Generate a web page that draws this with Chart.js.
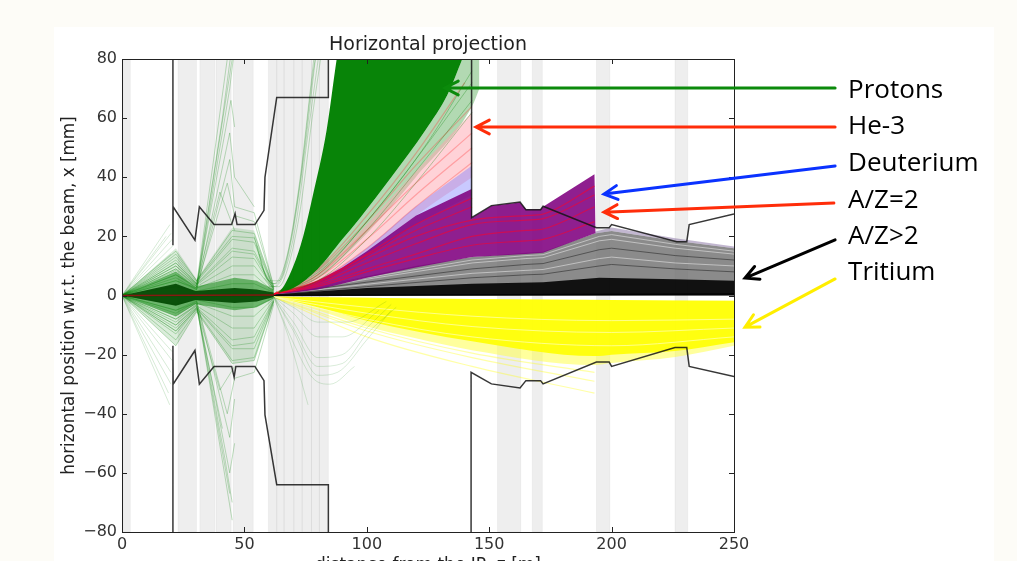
<!DOCTYPE html>
<html>
<head>
<meta charset="utf-8">
<script src="https://cdn.jsdelivr.net/npm/chart.js@4.4.1/dist/chart.umd.min.js"></script>
<style>
  html, body { margin: 0; padding: 0; background: #fdfcf7; }
  #wrap { width: 1017px; height: 561px; }
</style>
</head>
<body>
<div id="wrap"><canvas id="proj" width="1017" height="561"></canvas></div>
<script>
// axis ticks
const xTicks = [0, 50, 100, 150, 200, 250];
const yTicks = [-80, -60, -40, -20, 0, 20, 40, 60, 80];

// magnet / element regions along z [m]
const magnetBands = [[0.3, 3.4], [22.9, 30.4], [31.8, 37.9], [38.4, 44.6], [45.4, 53.6],
  [59.8, 63.2], [63.2, 66.2], [66.2, 70.2], [70.2, 73.6], [73.6, 77.4], [77.4, 80.6], [80.6, 84.3],
  [153.4, 162.9], [167.6, 171.7], [193.8, 199.3], [225.9, 231.1]];

// aperture outlines [z, x]
const apUpperLeft = [[20.8, 80], [20.8, 17], [20.9, 30], [29.8, 18.7], [31.6, 30], [37.6, 24], [44.8, 24],
  [46.2, 27.7], [47, 24], [54.3, 24], [58, 28.8], [58.4, 40], [63.2, 67], [84.3, 67], [84.3, 80]];
const apLowerLeft = [[20.8, -80], [20.8, -17], [20.9, -30], [29.8, -18.6], [31.6, -30], [37.6, -24], [44.8, -24],
  [45.8, -27.6], [46.5, -24], [54.3, -24], [58, -28.8], [58.4, -40.4], [63.2, -64], [84.3, -64], [84.3, -80]];
const apUpperRight = [[142.8, 80], [142.8, 26.3], [150.9, 30.4], [162.6, 31.6], [165, 29], [171, 29], [172, 30.2],
  [193.8, 22.9], [199, 22.9], [200, 24], [226.6, 18.2], [230.7, 18.2], [231.7, 24], [250, 27.6]];
const apLowerRight = [[142.6, -80], [142.6, -26], [150.9, -29.9], [162.6, -31.3], [165, -28.8], [171, -28.8], [172, -29.9],
  [193.8, -22.5], [199, -22.5], [200, -24], [225.9, -17.6], [230.7, -17.6], [231.7, -24], [250, -27.4]];

// A/Z>2 (grey / black)
const zeroLine = [[0, 0], [250, 0]];
const grayTop = [[0, 0], [62, 0.5], [80, 3], [100, 6.5], [120, 10], [143, 13], [165, 14.5], [172, 14.8],
  [193, 21], [200, 21.8], [226, 18.5], [250, 16]];
const grayCore = [[0, 0], [62, 0.3], [100, 2.5], [143, 4], [172, 4.5], [195, 6], [226, 5.5], [250, 5]];
const lavenderTop = [[193, 21.6], [200, 23], [226, 19.4], [250, 16.6]];
const grayStreaks = [
  [[62, 0.4], [100, 5.5], [143, 11], [165, 12.5], [172, 12.8], [195, 18.5], [200, 19], [226, 16], [250, 14]],
  [[62, 0.4], [100, 4.5], [143, 9], [165, 10.5], [172, 10.8], [195, 15.5], [200, 16], [226, 13.5], [250, 12]],
  [[62, 0.3], [100, 3.8], [143, 7.5], [165, 8.5], [172, 8.8], [195, 12.5], [200, 13], [226, 11], [250, 10]],
  [[62, 0.3], [100, 3], [143, 6], [165, 7], [172, 7.2], [195, 10], [200, 10.5], [226, 9], [250, 8]],
  [[62, 0.4], [100, 6], [143, 12], [165, 13.5], [172, 13.8], [195, 20], [200, 20.6], [226, 17.3], [250, 15]]
];

// tritium (yellow)
const yellowTop = [[62, -0.3], [100, -0.8], [143, -1.2], [200, -1.5], [250, -1.8]];
const yellowMid = [[62, -0.5], [80, -4], [100, -8.5], [143, -15.5], [193, -20.5], [200, -20], [226, -18.8], [250, -15.8]];
const yellowBottom = [[62, -0.5], [80, -5], [100, -10.5], [120, -14.5], [143, -18.5], [193, -23.5], [200, -22.8], [226, -20.8], [250, -17]];
const yellowFaint = [
  [[62, -0.5], [100, -12], [143, -21], [193, -29]],
  [[62, -0.5], [100, -14], [143, -24], [193, -33]],
  [[62, -0.5], [100, -11], [143, -19.5], [193, -26]]
];
const yellowLight = [
  [[62, -0.5], [100, -4], [143, -7], [200, -8.5], [250, -8]],
  [[62, -0.5], [100, -8], [143, -14], [200, -17], [250, -14]],
  [[62, -0.5], [100, -6], [143, -10.5], [200, -12.5], [250, -11]]
];

// He-3 (pink), deuterium (blue), A/Z=2 (purple / red)
const pinkLow = [[62, 0.5], [80, 4], [100, 14], [120, 27], [143, 40]];
const pinkHigh = [[62, 0.5], [80, 8], [100, 24], [120, 42], [143, 62]];
const pinkLines = [
  [[62, 0.5], [80, 7], [100, 22], [120, 38], [143, 55]],
  [[62, 0.5], [80, 6], [100, 19], [120, 34], [143, 50]],
  [[62, 0.5], [80, 8.5], [100, 25], [120, 44], [143, 64]],
  [[62, 0.5], [80, 5], [100, 16], [120, 30], [143, 45]],
  [[62, 0.5], [80, 9], [100, 27], [120, 48], [140, 72]]
];
const blueLow = [[62, 0.5], [80, 4], [100, 13], [120, 24], [143, 34]];
const blueHigh = [[62, 0.5], [80, 5], [100, 16], [120, 30], [143, 44]];
const purpleLow = [[62, 0.4], [70, 0.9], [80, 2], [90, 4], [100, 6], [120, 9.5], [143, 13], [165, 14], [172, 14.5], [193, 21], [193.5, 21]];
const purpleHigh = [[62, 0.5], [70, 1.8], [80, 5], [90, 9.5], [100, 15], [120, 27], [142.8, 36], [143, 26.3], [151, 30.4],
  [162.6, 31.5], [165, 29.2], [171, 29.2], [172, 30], [193, 41], [193.5, 21]];
const redLines = [
  [[62, 0.5], [80, 3.5], [100, 9], [120, 14], [143, 20], [165, 22], [172, 22.5], [193, 30]],
  [[62, 0.5], [80, 4], [100, 11], [120, 17.5], [143, 24], [165, 25.5], [172, 26], [193, 34]],
  [[62, 0.5], [80, 4.5], [100, 12.5], [120, 20], [143, 25.5], [165, 27], [172, 27.5], [193, 37]],
  [[62, 0.5], [80, 3], [100, 8], [120, 12.5], [143, 17], [165, 18.5], [172, 19], [193, 25]],
  [[62, 0.5], [80, 5], [100, 14], [120, 24], [143, 33]],
  [[62, 0.5], [80, 4.8], [100, 13.5], [120, 22], [143, 30]]
];

// protons (green): early focusing region
const greenEnvHigh = [[0, 0], [22, 16], [30.5, 5.5], [45, 23], [54, 22], [62, 2.8]];
const greenEnvLow = [[0, 0], [22, -17], [30.5, -5.5], [45, -23], [54, -22], [62, -2.2]];
const greenFocus = [
  [[0, 0], [22, 15], [30.5, 5], [45, 22], [54, 21], [62, 2.5]],
  [[0, 0], [22, 14], [30.5, 5], [45, 20], [54, 19.5], [62, 2.3]],
  [[0, 0], [22, 13], [30.5, 4.5], [45, 19], [54, 18], [62, 2.2]],
  [[0, 0], [22, 11], [30.5, 4], [45, 16], [54, 15], [62, 2]],
  [[0, 0], [22, 10], [30.5, 3.8], [45, 15], [54, 14], [62, 1.9]],
  [[0, 0], [22, 9], [30.5, 3.5], [45, 13], [54, 12.5], [62, 1.8]],
  [[0, 0], [22, 7], [30.5, 3], [45, 10], [54, 10], [62, 1.5]],
  [[0, 0], [22, 5], [30.5, 2.5], [45, 7], [54, 7], [62, 1.2]],
  [[0, 0], [22, 3], [30.5, 1.5], [45, 4], [54, 4], [62, 1]],
  [[0, 0], [22, -17], [30.5, -5.5], [45, -23], [54, -22], [62, -2.2]],
  [[0, 0], [22, -15], [30.5, -5], [45, -22], [54, -21], [62, -2]],
  [[0, 0], [22, -13], [30.5, -4.5], [45, -18], [54, -18], [62, -1.8]],
  [[0, 0], [22, -12], [30.5, -4.3], [45, -17], [54, -16], [62, -1.7]],
  [[0, 0], [22, -10], [30.5, -4], [45, -15], [54, -14], [62, -1.5]],
  [[0, 0], [22, -8], [30.5, -3.5], [45, -11], [54, -11], [62, -1.2]],
  [[0, 0], [22, -5], [30.5, -2.5], [45, -7], [54, -7], [62, -1]],
  [[0, 0], [22, -3], [30.5, -1.5], [45, -4], [54, -4], [62, -0.8]]
];
const greenSpikes = [
  [[0, 0], [22, 9], [30.5, 3], [45, 80]],
  [[0, 0], [22, 7], [30.5, 2.5], [44, 70], [46, 84]],
  [[0, 0], [22, 10], [30.5, 3.5], [41, 60], [45, 85]],
  [[0, 0], [22, 11], [30.5, 3.8], [43, 80]],
  [[0, 0], [22, 8.5], [30.5, 3.2], [44.5, 66], [46, 57]],
  [[0, 0], [22, 5], [30.5, 2], [44, 55], [46, 40], [54, 30]],
  [[0, 0], [22, 6], [30.5, 2], [44, 46], [46, 30], [54, 28], [62, 3]],
  [[0, 0], [22, 8], [30.5, 3], [43, 38], [46, 27], [54, 25], [62, 3]],
  [[0, 0], [22, 12], [30.5, 4], [40, 35], [46, 22]],
  [[0, 0], [22, -9], [30.5, -3], [45, -76]],
  [[0, 0], [22, -10], [30.5, -3.5], [44, -67]],
  [[0, 0], [22, -7], [30.5, -2.5], [44, -60], [46, -50]],
  [[0, 0], [22, -5], [30.5, -1.8], [44, -48], [46, -35]],
  [[0, 0], [22, -6], [30.5, -2], [43, -40], [46, -28], [54, -26], [62, -3]],
  [[0, 0], [22, -11], [30.5, -4], [40, -32], [46, -24]],
  [[0, 0], [22, -12], [30.5, -4.5], [41, -45]],
  [[0, 0], [22, -8], [30.5, -3], [42, -55], [45, -70]]
];
const greenLost = [
  [[0, 0], [19.6, 24]], [[0, 0], [20.5, 19]], [[0, 0], [19.5, -37]], [[0, 0], [20, -30]],
  [[0, 0], [20.5, -22]], [[0, 0], [20, -26]], [[0, 0], [21, 17]], [[0, 0], [20, 21]],
  [[0, 0], [18, 20]], [[0, 0], [19, -33]], [[0, 0], [20.5, -19]], [[0, 0], [20, 14]]
];
const greenCoreHigh = [[0, 0], [22, 4], [30, 1.5], [46, 2.5], [55, 2], [62, 1]];
const greenCoreLow = [[0, 0], [22, -3.5], [30, -1.5], [46, -2.5], [55, -2], [62, -0.5]];
const greenHaloHigh = [[0, 0], [22, 8], [30, 3], [46, 6], [55, 5], [62, 2]];
const greenHaloLow = [[0, 0], [22, -7], [30, -3], [46, -5], [55, -4], [62, -1]];

// protons (green): downstream of z = 60 m
const greenDown = [
  [[62, -0.5], [70, -12], [80, -27], [88, -26], [100, -15], [110, -5]],
  [[62, -0.5], [70, -9], [80, -21], [90, -20], [100, -11], [110, -3]],
  [[62, -0.5], [70, -6], [80, -14], [90, -14], [105, -5]],
  [[62, -0.5], [70, -4], [80, -9], [92, -9], [108, -2]],
  [[62, -0.5], [68, -14], [76, -37]],
  [[62, -0.5], [70, -16], [78, -28], [85, -30], [95, -24]],
  [[62, -0.5], [70, -11], [80, -24], [90, -23], [100, -13], [112, -4]]
];
const greenUpLeft = [
  [[54, 20], [58, 8], [62, 4], [67, 12], [72, 35], [77, 70], [79, 85]],
  [[56, 14], [60, 5], [64, 5], [69, 18], [74, 45], [79, 80]],
  [[58, 6], [62, 3], [66, 7], [71, 24], [76, 55], [81, 85]],
  [[60, 3], [64, 3], [68, 10], [73, 30], [78, 62], [82, 85]],
  [[55, 17], [59, 6], [63, 4], [68, 15], [73, 40], [78, 75], [80, 85]]
];
const greenUpRight = [
  [[64, 1], [80, 6], [100, 22], [120, 42], [143, 66]],
  [[64, 1], [80, 7], [100, 25], [120, 46], [143, 72]],
  [[64, 1], [82, 9], [105, 30], [125, 52], [143, 76]],
  [[64, 1], [80, 5], [100, 19], [120, 38], [143, 62]]
];
const greenMidLow = [[62, 1], [80, 6], [100, 21], [120, 40], [143, 64], [146, 70]];
const greenDenseLow = [[62, 1], [70, 2.5], [80, 9], [90, 19], [97, 26], [110, 40], [124, 56], [133, 68], [139, 80], [146, 95]];
const greenDenseHigh = [[62, 1], [65, 2], [70, 10], [74, 20], [78, 34], [83.6, 56], [87.7, 80], [90, 92], [146, 95]];
const beamAxis = [[0, 0], [62, 0.2]];

// annotations
const labelNames = ['Protons', 'He-3', 'Deuterium', 'A/Z=2', 'A/Z>2', 'Tritium'];
const labelColors = ['#0b8a0b', '#ff2d0a', '#0a32ff', '#ff2d0a', '#000000', '#ffee00'];
const labelZ = 296.6;
const labelX = [69.2, 57.3, 44.5, 32.0, 19.8, 7.9];
const arrowTail = [[291.3, 70.2], [291.3, 57.0], [291.3, 43.8], [290.8, 31.3], [291.3, 18.8], [291.3, 5.6]];
const arrowHead = [[131.9, 70.2], [144.6, 57.0], [196.9, 34.3], [196.9, 28.2], [254.5, 5.9], [254.5, -10.7]];

const datasets = [];
function line(pts, color, width, smooth) {
  datasets.push({
    data: pts.map(p => ({ x: p[0], y: p[1] })),
    borderColor: color,
    borderWidth: width,
    pointRadius: 0,
    fill: false,
    tension: smooth ? 0.4 : 0,
    cubicInterpolationMode: smooth ? 'monotone' : 'default'
  });
}
function band(lo, hi, color, smooth) {
  line(lo, 'rgba(0,0,0,0)', 0, smooth);
  line(hi, 'rgba(0,0,0,0)', 0, smooth);
  const d = datasets[datasets.length - 1];
  d.fill = '-1';
  d.backgroundColor = color;
}

// bottom to top
band(zeroLine, grayTop, 'rgba(110,110,110,0.8)', false);
band(grayTop.slice(8), lavenderTop, 'rgba(120,95,150,0.45)', false);
grayStreaks.forEach((p, i) => line(p, i % 2 ? 'rgba(45,45,45,0.6)' : 'rgba(215,215,215,0.7)', 1, false));
band(zeroLine, grayCore, 'rgba(0,0,0,0.88)', false);
line([[0, 0], [62, 0], [250, 0.5]], 'rgba(0,0,0,0.9)', 1.5, false);

band(yellowBottom, yellowTop, 'rgba(255,255,60,0.5)', true);
band(yellowMid, yellowTop, 'rgba(255,255,0,0.9)', true);
yellowFaint.forEach(p => line(p, 'rgba(255,255,0,0.35)', 1.2, true));
yellowLight.forEach(p => line(p, 'rgba(255,255,215,0.6)', 1, true));

band(greenDenseLow, greenMidLow, 'rgba(0,128,0,0.3)', true);
band(pinkLow, pinkHigh, 'rgba(255,165,175,0.5)', true);
pinkLines.forEach(p => line(p, 'rgba(255,40,40,0.3)', 1.2, true));
band(blueLow, blueHigh, 'rgba(120,120,255,0.4)', true);
band(purpleLow, purpleHigh, 'rgba(128,0,128,0.88)', false);
redLines.forEach(p => line(p, 'rgba(255,0,40,0.55)', 1.2, true));

band(greenEnvLow, greenEnvHigh, 'rgba(0,128,0,0.14)', false);
greenLost.forEach(p => line(p, 'rgba(0,128,0,0.16)', 1, false));
greenFocus.forEach(p => line(p, 'rgba(0,128,0,0.25)', 1, false));
greenSpikes.forEach(p => line(p, 'rgba(0,128,0,0.25)', 1, false));
greenDown.forEach(p => line(p, 'rgba(0,128,0,0.15)', 1, true));
greenUpLeft.forEach(p => line(p, 'rgba(0,128,0,0.22)', 1, true));
greenUpRight.forEach(p => line(p, 'rgba(0,128,0,0.3)', 1, true));
band(greenHaloLow, greenHaloHigh, 'rgba(0,128,0,0.5)', false);
band(greenCoreLow, greenCoreHigh, 'rgba(0,70,0,0.9)', false);
band(greenDenseLow, greenDenseHigh, 'rgba(0,128,0,0.97)', true);
line(beamAxis, 'rgba(150,20,20,0.9)', 1.5, false);

[apUpperLeft, apLowerLeft, apUpperRight, apLowerRight].forEach(p => line(p, 'rgba(20,20,20,0.85)', 1.5, false));

datasets.forEach((d, i) => { d.order = -i; });

const tickFont = { family: 'DejaVu Sans', size: 16 };

const decor = {
  id: 'decor',
  beforeDraw(chart) {
    const ctx = chart.ctx;
    ctx.save();
    ctx.fillStyle = '#fdfcf7';
    ctx.fillRect(0, 0, chart.width, chart.height);
    ctx.fillStyle = '#ffffff';
    ctx.fillRect(54, 27, 940, chart.height - 27);
    ctx.restore();
  },
  beforeDatasetsDraw(chart) {
    const ctx = chart.ctx, a = chart.chartArea, xs = chart.scales.x;
    ctx.save();
    ctx.beginPath();
    ctx.rect(a.left, a.top, a.right - a.left, a.bottom - a.top);
    ctx.clip();
    magnetBands.forEach(b => {
      const x0 = xs.getPixelForValue(b[0]), x1 = xs.getPixelForValue(b[1]);
      ctx.fillStyle = 'rgba(0,0,0,0.065)';
      ctx.fillRect(x0, a.top, x1 - x0, a.bottom - a.top);
      ctx.strokeStyle = 'rgba(0,0,0,0.04)';
      ctx.lineWidth = 1;
      ctx.strokeRect(x0, a.top, x1 - x0, a.bottom - a.top);
    });
    ctx.restore();
  },
  afterDraw(chart) {
    const ctx = chart.ctx, a = chart.chartArea, xs = chart.scales.x, ys = chart.scales.y;
    ctx.save();
    // frame and inward ticks
    ctx.strokeStyle = '#222';
    ctx.lineWidth = 1;
    ctx.strokeRect(a.left + 0.5, a.top + 0.5, a.right - a.left, a.bottom - a.top);
    ctx.beginPath();
    xTicks.forEach(v => {
      const px = Math.round(xs.getPixelForValue(v)) + 0.5;
      ctx.moveTo(px, a.bottom); ctx.lineTo(px, a.bottom - 5);
      ctx.moveTo(px, a.top); ctx.lineTo(px, a.top + 5);
    });
    yTicks.forEach(v => {
      const py = Math.round(ys.getPixelForValue(v)) + 0.5;
      ctx.moveTo(a.left, py); ctx.lineTo(a.left + 5, py);
      ctx.moveTo(a.right, py); ctx.lineTo(a.right - 5, py);
    });
    ctx.stroke();

    // titles
    ctx.fillStyle = '#222';
    ctx.font = '19px "DejaVu Sans"';
    ctx.textAlign = 'center';
    ctx.textBaseline = 'middle';
    ctx.fillText('Horizontal projection', (a.left + a.right) / 2, 45);
    ctx.font = '17px "DejaVu Sans"';
    ctx.textBaseline = 'alphabetic';
    ctx.fillText('distance from the IP, z [m]', (a.left + a.right) / 2, 570);
    ctx.save();
    ctx.translate(70, (a.top + a.bottom) / 2);
    ctx.rotate(-Math.PI / 2);
    ctx.font = '16.8px "DejaVu Sans"';
    ctx.textBaseline = 'middle';
    ctx.fillText('horizontal position w.r.t. the beam, x [mm]', 0, 0);
    ctx.restore();

    // arrows and species labels
    labelNames.forEach((name, i) => {
      const tx = xs.getPixelForValue(arrowTail[i][0]), ty = ys.getPixelForValue(arrowTail[i][1]);
      const hx = xs.getPixelForValue(arrowHead[i][0]), hy = ys.getPixelForValue(arrowHead[i][1]);
      const ang = Math.atan2(ty - hy, tx - hx);
      ctx.strokeStyle = labelColors[i];
      ctx.lineWidth = 3;
      ctx.lineCap = 'round';
      ctx.beginPath();
      ctx.moveTo(tx, ty); ctx.lineTo(hx, hy);
      ctx.moveTo(hx + 15 * Math.cos(ang + 0.48), hy + 15 * Math.sin(ang + 0.48));
      ctx.lineTo(hx, hy);
      ctx.lineTo(hx + 15 * Math.cos(ang - 0.48), hy + 15 * Math.sin(ang - 0.48));
      ctx.stroke();
      ctx.fillStyle = '#000';
      ctx.font = '26px "Open Sans"';
      ctx.textAlign = 'left';
      ctx.textBaseline = 'middle';
      ctx.fillText(name, xs.getPixelForValue(labelZ), ys.getPixelForValue(labelX[i]));
    });
    ctx.restore();
  }
};

new Chart(document.getElementById('proj'), {
  type: 'line',
  data: { datasets: datasets },
  options: {
    responsive: false,
    animation: false,
    layout: { padding: { left: 0, top: 59, right: 283, bottom: 0 } },
    plugins: { legend: { display: false }, tooltip: { enabled: false } },
    scales: {
      x: {
        type: 'linear', min: 0, max: 250,
        grid: { display: false, drawTicks: false },
        border: { display: false },
        afterBuildTicks: s => { s.ticks = xTicks.map(v => ({ value: v })); },
        afterFit: s => { s.height = 29; },
        ticks: { autoSkip: false, maxRotation: 0, padding: 3, font: tickFont, color: '#333' }
      },
      y: {
        type: 'linear', min: -80, max: 80,
        grid: { display: false, drawTicks: false },
        border: { display: false },
        afterBuildTicks: s => { s.ticks = yTicks.map(v => ({ value: v })); },
        afterFit: s => { s.width = 122; },
        ticks: {
          autoSkip: false, padding: 5, font: tickFont, color: '#333',
          callback: v => (v < 0 ? '\u2212' + Math.abs(v) : String(v))
        }
      }
    }
  },
  plugins: [decor]
});
</script>
</body>
</html>
